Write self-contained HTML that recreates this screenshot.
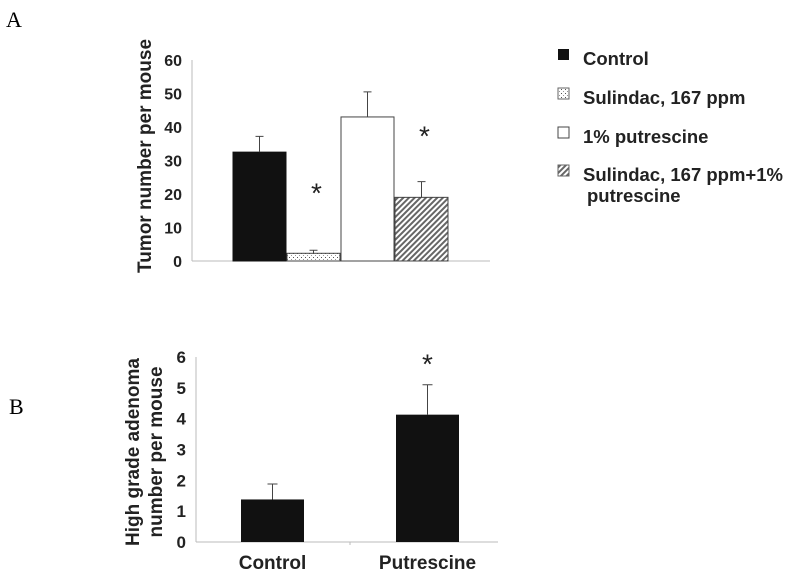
<!DOCTYPE html>
<html><head><meta charset="utf-8"><style>
body{margin:0;background:#fff;}
svg{display:block;font-family:"Liberation Sans",Arial,sans-serif;}
</style></head><body>
<svg id="s" width="800" height="573" viewBox="0 0 800 573">
<defs>
<pattern id="dots" width="4" height="4" patternUnits="userSpaceOnUse"><rect width="4" height="4" fill="#fff"/><rect x="1" y="1" width="1" height="1" fill="#555"/><rect x="3" y="3" width="1" height="1" fill="#999"/></pattern>
<pattern id="hatch" width="4" height="4" patternUnits="userSpaceOnUse" patternTransform="rotate(45)"><rect width="4" height="4" fill="#fff"/><rect width="2" height="4" fill="#666"/></pattern>
</defs>
<text x="6" y="27" font-family="Liberation Serif,serif" font-size="22">A</text>
<text x="9" y="414" font-family="Liberation Serif,serif" font-size="22">B</text>
<text transform="translate(151,156) rotate(-90)" text-anchor="middle" font-size="19" font-weight="bold" fill="#222">Tumor number per mouse</text>
<text transform="translate(139,452) rotate(-90)" text-anchor="middle" font-size="19" font-weight="bold" fill="#222">High grade adenoma</text>
<text transform="translate(162,452) rotate(-90)" text-anchor="middle" font-size="19" font-weight="bold" fill="#222">number per mouse</text>
<g id="ga"></g><g id="gb"></g>
<g id="legend" font-size="18.5" font-weight="bold" fill="#222">
<rect x="558" y="49" width="11" height="11" fill="#111"/>
<text x="583" y="65">Control</text>
<rect x="558" y="88" width="11" height="11" fill="url(#dots)" stroke="#666"/>
<text x="583" y="104">Sulindac, 167 ppm</text>
<rect x="558" y="127" width="11" height="11" fill="#fff" stroke="#444"/>
<text x="583" y="143">1% putrescine</text>
<rect x="558" y="165" width="11" height="11" fill="url(#hatch)" stroke="#666"/>
<text x="583" y="181">Sulindac, 167 ppm+1%</text>
<text x="587" y="202">putrescine</text>
</g>
</svg>
<script>
const aVals=[32.5,2.3,43,19];
const aErr=[37.2,3.2,50.5,23.7];
const aFill=['#111','url(#dots)','#fff','url(#hatch)'];
const aStarAt=[null,21,null,38];
const aTicks=[0,10,20,30,40,50,60];
const bCats=['Control','Putrescine'];
const bVals=[1.38,4.13];
const bErr=[1.88,5.1];
const bStarAt=[null,5.85];
const bTicks=[0,1,2,3,4,5,6];
const NS='http://www.w3.org/2000/svg';
function mk(p,t,at){const e=document.createElementNS(NS,t);for(const k in at)e.setAttribute(k,at[k]);p.appendChild(e);return e;}
// Panel A
const ga=document.getElementById('ga');
const ya=v=>261-v*201/60;
mk(ga,'line',{x1:192,y1:60,x2:192,y2:261,stroke:'#bbb'});
mk(ga,'line',{x1:192,y1:261,x2:490,y2:261,stroke:'#bbb'});
aTicks.forEach(t=>{const e=mk(ga,'text',{x:182,y:ya(t)+6,'text-anchor':'end','font-size':16,'font-weight':'bold',fill:'#222'});e.textContent=t;

});
aVals.forEach((v,i)=>{const x0=233+i*54;
const r=mk(ga,'rect',{x:x0,y:ya(v),width:53,height:ya(0)-ya(v),fill:aFill[i],stroke:i==0?'#111':'#444'});


const cx=x0+26.5;
const l=mk(ga,'path',{d:`M${cx},${ya(v)}V${ya(aErr[i])}M${cx-4},${ya(aErr[i])}H${cx+4}`,stroke:'#444',fill:'none'});


if(aStarAt[i]!==null){const s=mk(ga,'text',{x:cx+3,y:ya(aStarAt[i])+12,'text-anchor':'middle','font-size':28,fill:'#222'});s.textContent='*';

}
});
// Panel B
const gb=document.getElementById('gb');
const yb=v=>542-v*185/6;
mk(gb,'line',{x1:196,y1:357,x2:196,y2:542,stroke:'#bbb'});
mk(gb,'line',{x1:196,y1:542,x2:498,y2:542,stroke:'#bbb'});
mk(gb,'line',{x1:350,y1:542,x2:350,y2:545,stroke:'#bbb'});
bTicks.forEach(t=>{const e=mk(gb,'text',{x:186,y:yb(t)+6,'text-anchor':'end','font-size':17,'font-weight':'bold',fill:'#222'});e.textContent=t;

});
bVals.forEach((v,i)=>{const x0=241+i*155;
const r=mk(gb,'rect',{x:x0,y:yb(v),width:63,height:yb(0)-yb(v),fill:'#111'});


const cx=x0+31.5;
const l=mk(gb,'path',{d:`M${cx},${yb(v)}V${yb(bErr[i])}M${cx-5},${yb(bErr[i])}H${cx+5}`,stroke:'#444',fill:'none'});


const c=mk(gb,'text',{x:cx,y:569,'text-anchor':'middle','font-size':19,'font-weight':'bold',fill:'#222'});c.textContent=bCats[i];


if(bStarAt[i]!==null){const s=mk(gb,'text',{x:cx,y:yb(bStarAt[i])+12,'text-anchor':'middle','font-size':28,fill:'#222'});s.textContent='*';

}
});
</script>
</body></html>
